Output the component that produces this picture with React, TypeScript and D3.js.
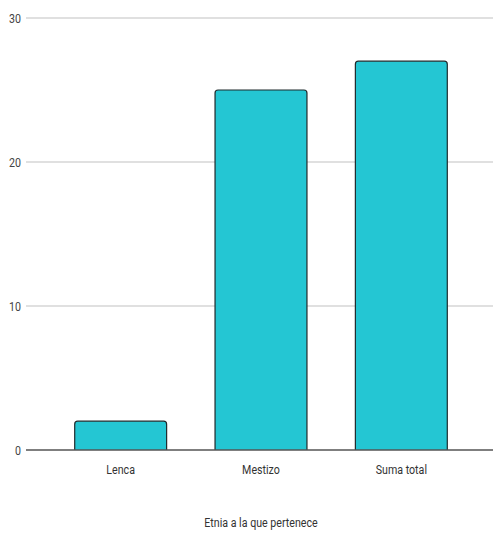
import React from "react";
import * as d3 from "d3";

const categories = ["Lenca", "Mestizo", "Suma total"];
const values = [2, 25, 27];
const yTicks = [0, 10, 20, 30];
const xTitle = "Etnia a la que pertenece";

const W = 493;
const H = 537;

export default function App() {
  const x = d3.scaleBand<string>().domain(categories).range([50.5, 471.5]).paddingInner(0.345).paddingOuter(0.1725);
  const y = d3.scaleLinear().domain([0, 30]).range([450, 18]);
  const r = 3;
  const barPath = (c: string, v: number) => {
    const x0 = x(c)!;
    const x1 = x0 + x.bandwidth();
    const yt = y(v);
    const yb = y(0);
    const p = d3.path();
    p.moveTo(x0, yb);
    p.lineTo(x0, yt + r);
    p.quadraticCurveTo(x0, yt, x0 + r, yt);
    p.lineTo(x1 - r, yt);
    p.quadraticCurveTo(x1, yt, x1, yt + r);
    p.lineTo(x1, yb);
    return p.toString();
  };
  const font = "Roboto, 'Liberation Sans Narrow', sans-serif";
  return (
    <svg width={W} height={H} style={{ position: "absolute", left: 0, top: 0, background: "#fff" }}>
      {yTicks.map((t) => (
        <g key={t}>
          {t !== 0 && <line x1={26} x2={493} y1={y(t)} y2={y(t)} stroke="#d6d6d6" strokeWidth={1.3} />}
          <text x={21} y={y(t)} dy="0.35em" textAnchor="end" fontFamily={font} fontSize={13} fill="#444"
            transform={`translate(${21},0) scale(0.82,1) translate(${-21},0)`}>
            {t}
          </text>
        </g>
      ))}
      {categories.map((c, i) => (
        <path key={c} d={barPath(c, values[i])} fill="#24c6d3" stroke="#1f2a2c" strokeWidth={1.2} />
      ))}
      <line x1={26} x2={493} y1={y(0)} y2={y(0)} stroke="#555" strokeWidth={1.6} />
      {categories.map((c) => {
        const cx = x(c)! + x.bandwidth() / 2;
        return (
          <text key={c} x={cx} y={474} textAnchor="middle" fontFamily={font} fontSize={13} fill="#333"
            transform={`translate(${cx},0) scale(0.82,1) translate(${-cx},0)`}>
            {c}
          </text>
        );
      })}
      <text x={261} y={527} textAnchor="middle" fontFamily={font} fontSize={13} fill="#333"
        transform={`translate(261,0) scale(0.82,1) translate(-261,0)`}>
        {xTitle}
      </text>
    </svg>
  );
}
